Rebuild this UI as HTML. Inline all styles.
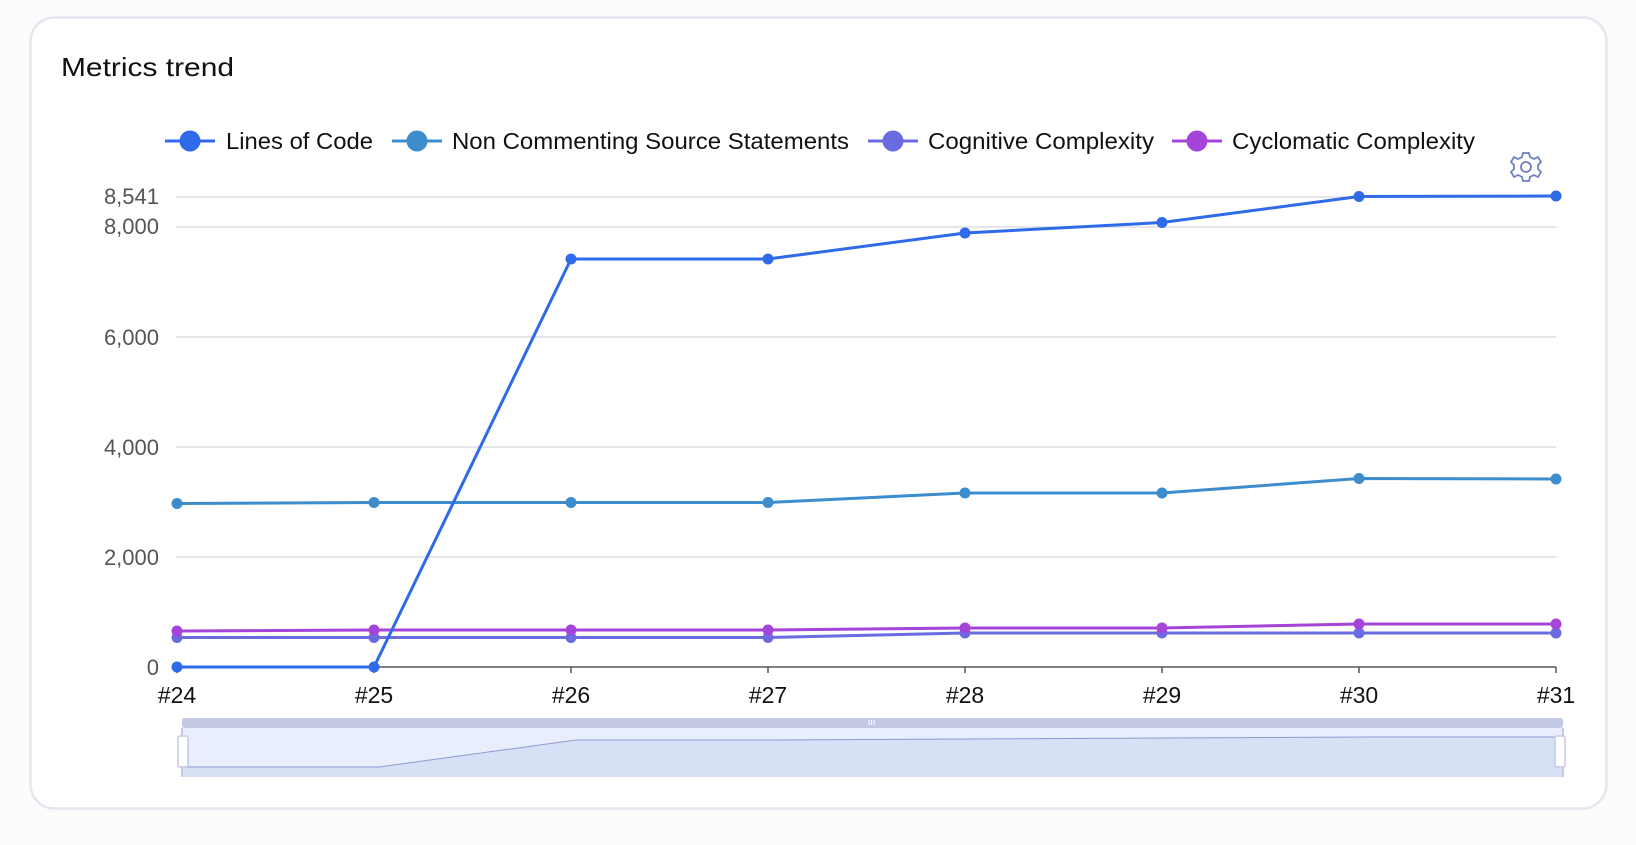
<!DOCTYPE html>
<html><head><style>
html,body{margin:0;padding:0;background:#fcfcfd;}
body{width:1636px;height:840px;overflow:hidden;font-family:"Liberation Sans",sans-serif;}
</style></head><body>
<svg width="1636" height="840" xmlns="http://www.w3.org/2000/svg" font-family="Liberation Sans, sans-serif">
<rect x="30.5" y="17.5" width="1576" height="791" rx="24" fill="#fff" stroke="#e3e7ef" stroke-width="2.5"/>
<text x="61" y="76" font-size="26" fill="#111" textLength="173" lengthAdjust="spacingAndGlyphs">Metrics trend</text>
<!-- legend -->
<g font-size="23" fill="#111">
<line x1="165" y1="141" x2="215" y2="141" stroke="#2f6ae8" stroke-width="3"/><circle cx="190" cy="141" r="10.5" fill="#2f6ae8"/>
<text x="226" y="149" textLength="147" lengthAdjust="spacingAndGlyphs">Lines of Code</text>
<line x1="392" y1="141" x2="442" y2="141" stroke="#3d8ccc" stroke-width="3"/><circle cx="417" cy="141" r="10.5" fill="#3d8ccc"/>
<text x="452" y="149" textLength="397" lengthAdjust="spacingAndGlyphs">Non Commenting Source Statements</text>
<line x1="868" y1="141" x2="918" y2="141" stroke="#6b6be0" stroke-width="3"/><circle cx="893" cy="141" r="10.5" fill="#6b6be0"/>
<text x="928" y="149" textLength="226" lengthAdjust="spacingAndGlyphs">Cognitive Complexity</text>
<line x1="1172" y1="141" x2="1222" y2="141" stroke="#a444d8" stroke-width="3"/><circle cx="1197" cy="141" r="10.5" fill="#a444d8"/>
<text x="1232" y="149" textLength="243" lengthAdjust="spacingAndGlyphs">Cyclomatic Complexity</text>
</g>
<!-- gear -->
<g transform="translate(1526,167)" fill="none" stroke="#6f7fc0" stroke-width="1.8">
<circle r="5"/>
<path d="M-3,-14 L3,-14 L4,-10 L8,-8 L12,-10 L15,-5 L12,-2 L12,2 L15,5 L12,10 L8,8 L4,10 L3,14 L-3,14 L-4,10 L-8,8 L-12,10 L-15,5 L-12,2 L-12,-2 L-15,-5 L-12,-10 L-8,-8 L-4,-10 Z"/>
</g>
<!-- grid -->
<g stroke="#dcdde3" stroke-width="1.5">
<line x1="176" y1="197" x2="1556" y2="197"/>
<line x1="176" y1="227" x2="1556" y2="227"/>
<line x1="176" y1="337" x2="1556" y2="337"/>
<line x1="176" y1="447" x2="1556" y2="447"/>
<line x1="176" y1="557" x2="1556" y2="557"/>
</g>
<line x1="176" y1="667" x2="1556" y2="667" stroke="#555" stroke-width="1.5"/>
<g stroke="#555" stroke-width="1.5">
<line x1="177" y1="667" x2="177" y2="673"/><line x1="374" y1="667" x2="374" y2="673"/><line x1="571" y1="667" x2="571" y2="673"/><line x1="768" y1="667" x2="768" y2="673"/><line x1="965" y1="667" x2="965" y2="673"/><line x1="1162" y1="667" x2="1162" y2="673"/><line x1="1359" y1="667" x2="1359" y2="673"/><line x1="1556" y1="667" x2="1556" y2="673"/>
</g>
<g font-size="22" fill="#555" text-anchor="end">
<text x="159" y="204">8,541</text><text x="159" y="234">8,000</text><text x="159" y="345">6,000</text><text x="159" y="455">4,000</text><text x="159" y="565">2,000</text><text x="159" y="675">0</text>
</g>
<g font-size="23" fill="#111" text-anchor="middle">
<text x="177" y="703">#24</text><text x="374" y="703">#25</text><text x="571" y="703">#26</text><text x="768" y="703">#27</text><text x="965" y="703">#28</text><text x="1162" y="703">#29</text><text x="1359" y="703">#30</text><text x="1556" y="703">#31</text>
</g>
<!-- series -->
<g fill="none" stroke-width="3" stroke-linejoin="round">
<polyline stroke="#6b6be0" points="177,637.5 374,637.5 571,637.5 768,637.5 965,633 1162,633 1359,633 1556,633"/>
<polyline stroke="#a444d8" points="177,631 374,630 571,630 768,630 965,628 1162,628 1359,624 1556,624"/>
<polyline stroke="#3d8ccc" points="177,503.5 374,502.5 571,502.5 768,502.5 965,493 1162,493 1359,478.5 1556,479"/>
<polyline stroke="#2f6ae8" points="177,667 374,667 571,259 768,259 965,233 1162,222.5 1359,196.5 1556,196"/>
</g>
<g fill="#6b6be0"><circle cx="177" cy="637.5" r="5.5"/><circle cx="374" cy="637.5" r="5.5"/><circle cx="571" cy="637.5" r="5.5"/><circle cx="768" cy="637.5" r="5.5"/><circle cx="965" cy="633" r="5.5"/><circle cx="1162" cy="633" r="5.5"/><circle cx="1359" cy="633" r="5.5"/><circle cx="1556" cy="633" r="5.5"/></g>
<g fill="#a444d8"><circle cx="177" cy="631" r="5.5"/><circle cx="374" cy="630" r="5.5"/><circle cx="571" cy="630" r="5.5"/><circle cx="768" cy="630" r="5.5"/><circle cx="965" cy="628" r="5.5"/><circle cx="1162" cy="628" r="5.5"/><circle cx="1359" cy="624" r="5.5"/><circle cx="1556" cy="624" r="5.5"/></g>
<g fill="#3d8ccc"><circle cx="177" cy="503.5" r="5.5"/><circle cx="374" cy="502.5" r="5.5"/><circle cx="571" cy="502.5" r="5.5"/><circle cx="768" cy="502.5" r="5.5"/><circle cx="965" cy="493" r="5.5"/><circle cx="1162" cy="493" r="5.5"/><circle cx="1359" cy="478.5" r="5.5"/><circle cx="1556" cy="479" r="5.5"/></g>
<g fill="#2f6ae8"><circle cx="177" cy="667" r="5.5"/><circle cx="374" cy="667" r="5.5"/><circle cx="571" cy="259" r="5.5"/><circle cx="768" cy="259" r="5.5"/><circle cx="965" cy="233" r="5.5"/><circle cx="1162" cy="222.5" r="5.5"/><circle cx="1359" cy="196.5" r="5.5"/><circle cx="1556" cy="196" r="5.5"/></g>
<!-- data zoom -->
<rect x="182" y="718" width="1381" height="59" fill="#e8eefc"/>
<path d="M182,767 L379,767 L576,740 L773,740 L970,739 L1167,738 L1364,737 L1563,737 L1563,777 L182,777 Z" fill="#d8e0f5"/>
<polyline points="182,767 379,767 576,740 773,740 970,739 1167,738 1364,737 1563,737" fill="none" stroke="#8c9bd4" stroke-width="1"/>
<rect x="182" y="718" width="1381" height="10" rx="3" fill="#c3c9e2"/>
<line x1="182" y1="728" x2="182" y2="777" stroke="#c3c9e2" stroke-width="2"/>
<line x1="1563" y1="728" x2="1563" y2="777" stroke="#c3c9e2" stroke-width="2"/>
<g stroke="#fff" stroke-width="1"><line x1="869" y1="720" x2="869" y2="725"/><line x1="871.5" y1="720" x2="871.5" y2="725"/><line x1="874" y1="720" x2="874" y2="725"/></g>
<rect x="178" y="736" width="10" height="31" rx="2" fill="#fff" stroke="#c3c9e2" stroke-width="1.5"/>
<rect x="1555" y="736" width="10" height="31" rx="2" fill="#fff" stroke="#c3c9e2" stroke-width="1.5"/>
</svg>
</body></html>
